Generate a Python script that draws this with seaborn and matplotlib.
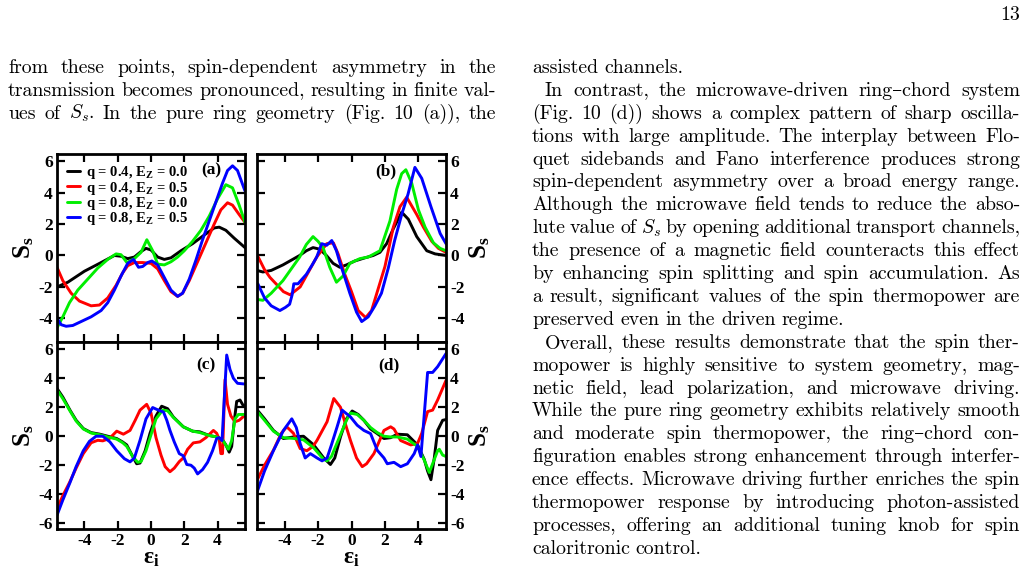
import matplotlib
matplotlib.use('Agg')
import matplotlib.pyplot as plt
import numpy as np
import pandas as pd
import seaborn as sns

# ---------------- data ----------------
names = [r'q = 0.4, $\mathrm{E_Z}$ = 0.0', r'q = 0.4, $\mathrm{E_Z}$ = 0.5',
         r'q = 0.8, $\mathrm{E_Z}$ = 0.0', r'q = 0.8, $\mathrm{E_Z}$ = 0.5']
colors = ['#000000', '#ff0000', '#00ee00', '#0000ff']

# panel (a)
a_k_x = [-5.65, -5.0, -4.0, -3.0, -2.2, -1.8, -1.4, -1.0, -0.6, -0.3, 0.0, 0.4, 0.8, 1.2, 1.8, 2.5, 3.2, 3.8, 4.1, 4.5, 5.0, 5.65]
a_k_y = [-2.0, -1.7, -1.0, -0.45, 0.0, -0.05, -0.2, -0.1, 0.25, 0.45, 0.35, -0.1, -0.25, -0.15, 0.3, 0.75, 1.3, 1.75, 1.8, 1.6, 1.1, 0.5]
a_r_x = [-5.65, -5.3, -4.8, -4.3, -3.6, -3.1, -2.6, -2.1, -1.7, -1.4, -1.0, -0.5, 0.0, 0.4, 0.8, 1.2, 1.6, 1.9, 2.3, 2.8, 3.3, 3.8, 4.2, 4.6, 4.9, 5.3, 5.65]
a_r_y = [-0.75, -1.6, -2.4, -2.9, -3.2, -3.15, -2.7, -1.9, -1.1, -0.65, -0.45, -0.45, -0.5, -0.85, -1.6, -2.3, -2.6, -2.4, -1.6, -0.4, 0.8, 2.0, 2.9, 3.35, 3.2, 2.6, 2.1]
a_g_x = [-5.65, -5.3, -4.9, -4.4, -3.8, -3.2, -2.6, -2.1, -1.8, -1.45, -1.0, -0.6, -0.25, 0.1, 0.4, 0.8, 1.2, 1.6, 2.0, 2.5, 3.0, 3.5, 4.0, 4.5, 4.9, 5.3, 5.65]
a_g_y = [-4.6, -3.9, -3.0, -2.2, -1.5, -0.8, -0.25, 0.1, 0.05, -0.45, -0.2, 0.2, 1.0, 0.3, -0.55, -0.6, -0.4, -0.1, 0.3, 0.9, 1.6, 2.5, 3.6, 4.5, 4.3, 3.2, 2.1]
a_b_x = [-5.65, -5.4, -5.1, -4.7, -4.2, -3.6, -3.0, -2.6, -2.2, -1.8, -1.4, -1.05, -0.75, -0.5, -0.2, 0.05, 0.4, 0.8, 1.2, 1.6, 1.9, 2.3, 2.7, 3.1, 3.5, 3.9, 4.3, 4.6, 4.9, 5.2, 5.65]
a_b_y = [-4.0, -4.4, -4.5, -4.45, -4.2, -3.9, -3.5, -3.0, -2.2, -1.3, -0.5, -0.25, -0.75, -0.7, -0.45, -0.35, -0.6, -1.4, -2.2, -2.6, -2.4, -1.5, -0.3, 1.0, 2.2, 3.4, 4.6, 5.4, 5.7, 5.4, 4.1]

# panel (b)
b_k_x = [-5.65, -5.3, -4.8, -4.1, -3.6, -3.1, -2.7, -2.3, -1.9, -1.5, -1.1, -0.7, -0.3, 0.2, 0.8, 1.3, 1.7, 2.1, 2.5, 3.0, 3.4, 3.9, 4.5, 5.0, 5.65]
b_k_y = [-0.95, -1.05, -0.95, -0.6, -0.3, 0.0, 0.3, 0.5, 0.4, 0.0, -0.5, -0.75, -0.6, -0.35, -0.15, 0.0, 0.2, 0.75, 1.7, 2.75, 2.3, 1.2, 0.3, 0.1, 0.0]
b_r_x = [-5.6, -5.2, -4.87, -4.07, -3.67, -3.07, -2.6, -2.08, -1.48, -1.08, -0.8, -0.4, 0.0, 0.4, 0.85, 1.2, 1.6, 2.0, 2.5, 2.9, 3.3, 3.9, 4.3, 4.8, 5.2, 5.65]
b_r_y = [-0.05, -0.9, -1.4, -2.3, -2.5, -2.0, -1.1, -0.1, 0.75, 0.8, 0.1, -1.2, -2.3, -3.5, -3.95, -3.5, -2.1, -0.7, 1.8, 3.1, 3.7, 2.6, 1.8, 0.9, 0.45, 0.2]
b_g_x = [-5.6, -5.3, -4.8, -4.1, -3.6, -3.1, -2.7, -2.3, -2.0, -1.7, -1.3, -0.9, -0.5, -0.1, 0.5, 1.0, 1.7, 2.3, 2.7, 3.0, 3.25, 3.6, 4.0, 4.4, 4.9, 5.3, 5.65]
b_g_y = [-2.8, -2.85, -2.4, -1.6, -0.85, -0.1, 0.7, 1.2, 0.9, 0.5, -0.75, -1.7, -1.3, -0.5, -0.2, -0.1, 0.3, 2.2, 4.2, 5.2, 5.45, 4.6, 2.9, 1.8, 0.8, 0.45, 0.3]
b_b_x = [-5.6, -5.2, -4.8, -4.28, -3.95, -3.7, -3.55, -3.45, -3.2, -2.7, -2.35, -2.08, -1.78, -1.48, -1.18, -0.9, -0.68, -0.4, -0.1, 0.3, 0.61, 1.0, 1.4, 1.79, 2.2, 2.58, 3.0, 3.38, 3.79, 4.2, 4.75, 5.3, 5.65]
b_b_y = [-1.8, -2.7, -3.2, -3.5, -3.3, -3.1, -2.5, -1.8, -1.8, -1.2, -0.6, -0.1, 0.75, 0.65, 0.95, 0.3, -0.5, -1.4, -2.4, -3.6, -4.2, -3.9, -3.2, -2.4, -0.8, 0.95, 2.6, 3.9, 5.6, 4.9, 3.1, 1.4, 0.75]

# panel (c)
c_k_x = [-5.65, -5.3, -4.87, -4.5, -4.07, -3.6, -3.07, -2.6, -2.06, -1.7, -1.46, -1.1, -0.86, -0.66, -0.35, -0.06, 0.3, 0.64, 1.0, 1.34, 1.94, 2.5, 2.94, 3.5, 3.95, 4.3, 4.5, 4.7, 4.85, 5.0, 5.15, 5.35, 5.55, 5.65]
c_k_y = [3.3, 2.7, 1.8, 1.1, 0.53, 0.25, 0.14, 0.0, -0.16, -0.4, -0.6, -1.4, -1.9, -1.85, -1.0, 0.2, 1.4, 2.07, 1.9, 1.33, 0.65, 0.35, 0.3, 0.05, -0.05, -0.25, -0.6, -1.1, -0.7, 1.0, 2.4, 2.5, 2.1, 2.1]
c_r_x = [-5.65, -5.3, -4.9, -4.5, -4.07, -3.6, -3.2, -2.9, -2.5, -2.06, -1.66, -1.26, -0.95, -0.66, -0.26, 0.0, 0.3, 0.6, 0.85, 1.14, 1.4, 1.7, 1.94, 2.2, 2.54, 2.94, 3.3, 3.75, 3.95, 4.1, 4.2, 4.3, 4.45, 4.6, 4.8, 5.05, 5.3, 5.65]
c_r_y = [-5.0, -4.1, -3.2, -2.2, -1.2, -0.45, -0.28, -0.32, -0.16, 0.35, 0.14, 0.4, 1.1, 1.8, 2.2, 1.6, -0.1, -1.3, -2.1, -2.45, -2.2, -1.75, -1.5, -0.9, -0.46, -0.39, -0.1, 0.4, 0.2, -0.2, -1.2, -1.2, 3.9, 2.2, 1.4, 1.0, 1.1, 1.45]
c_g_x = [-5.65, -5.3, -4.87, -4.5, -4.07, -3.6, -3.07, -2.6, -2.06, -1.7, -1.46, -1.1, -0.8, -0.6, -0.3, 0.0, 0.3, 0.7, 1.0, 1.34, 1.94, 2.5, 2.94, 3.5, 3.95, 4.3, 4.65, 4.85, 5.05, 5.25, 5.45, 5.65]
c_g_y = [3.2, 2.6, 1.75, 1.05, 0.5, 0.22, 0.1, -0.05, -0.2, -0.45, -0.7, -1.4, -1.8, -1.75, -1.0, 0.1, 1.2, 1.8, 1.75, 1.3, 0.65, 0.35, 0.25, 0.05, -0.05, -0.25, -0.9, -0.3, 1.2, 1.5, 1.5, 1.5]
c_b_x = [-5.65, -5.3, -4.87, -4.5, -4.07, -3.7, -3.3, -2.9, -2.47, -2.06, -1.6, -1.26, -1.0, -0.66, -0.3, 0.1, 0.35, 0.55, 0.75, 0.95, 1.14, 1.4, 1.7, 1.94, 2.15, 2.4, 2.6, 2.8, 3.1, 3.4, 3.7, 3.95, 4.1, 4.27, 4.4, 4.55, 4.75, 4.95, 5.2, 5.65]
c_b_y = [-5.45, -4.4, -3.2, -2.1, -1.0, -0.35, 0.0, 0.0, -0.39, -1.0, -1.55, -1.77, -1.5, -0.28, 1.2, 1.98, 1.85, 1.75, 1.67, 1.1, 0.4, -0.4, -1.2, -1.35, -1.95, -2.0, -2.2, -2.6, -2.3, -1.8, -1.0, -0.15, -0.1, -0.3, 2.5, 5.6, 4.6, 4.0, 3.65, 3.6]

# panel (d)
d_k_x = [-5.63, -5.2, -4.67, -4.07, -3.47, -2.87, -2.26, -1.66, -1.26, -1.0, -0.66, -0.3, 0.04, 0.4, 0.74, 1.14, 1.54, 1.94, 2.34, 2.74, 3.34, 3.95, 4.35, 4.55, 4.75, 4.95, 5.15, 5.45, 5.65]
d_k_y = [1.8, 1.2, 0.4, -0.16, -0.05, 0.0, -0.6, -1.5, -1.95, -1.5, -0.05, 1.2, 1.74, 1.5, 1.1, 0.5, 0.18, -0.16, -0.1, 0.14, 0.1, -0.6, -1.6, -2.4, -3.0, -1.5, 0.4, 1.1, 1.15]
d_r_x = [-5.63, -5.2, -4.67, -4.2, -3.87, -3.47, -3.07, -2.67, -2.3, -2.06, -1.46, -1.06, -0.66, -0.3, -0.06, 0.3, 0.64, 0.9, 1.34, 1.94, 2.34, 2.54, 2.94, 3.54, 3.95, 4.2, 4.55, 4.85, 5.15, 5.65]
d_r_y = [-3.0, -2.0, -0.97, 0.2, 0.65, 0.2, -0.85, -1.0, -0.7, -0.28, 1.0, 2.6, 2.0, 0.6, -0.3, -1.5, -2.1, -1.9, -1.2, 0.4, 0.65, 0.5, -0.3, -0.6, -0.5, 0.2, 1.7, 1.8, 2.5, 3.85]
d_g_x = [-5.63, -5.2, -4.67, -4.07, -3.47, -2.87, -2.26, -1.66, -1.46, -1.2, -0.66, -0.3, -0.06, 0.34, 0.74, 1.14, 1.54, 1.94, 2.34, 2.74, 3.34, 3.95, 4.35, 4.65, 4.95, 5.15, 5.25, 5.45, 5.65]
d_g_y = [1.7, 1.1, 0.35, -0.1, -0.15, -0.25, -0.8, -1.6, -1.7, -1.4, 0.1, 1.1, 1.6, 1.5, 1.1, 0.6, 0.25, 0.0, -0.05, -0.05, -0.2, -0.7, -1.65, -2.5, -1.6, -1.0, -0.9, -1.3, -1.4]
d_b_x = [-5.63, -5.2, -4.67, -4.07, -3.57, -3.3, -3.07, -2.77, -2.46, -2.06, -1.76, -1.46, -1.2, -0.86, -0.56, -0.06, 0.34, 0.74, 1.14, 1.54, 1.94, 2.14, 2.54, 2.94, 3.34, 3.75, 3.95, 4.15, 4.55, 4.85, 5.15, 5.65]
d_b_y = [-3.8, -2.4, -1.0, 0.4, 1.2, 0.6, -0.5, -1.5, -1.2, -1.5, -1.7, -1.5, -0.6, 0.65, 1.8, 1.33, 0.76, 0.4, 0.18, -0.97, -1.5, -1.9, -1.8, -2.1, -1.9, -1.2, -0.6, -1.4, 4.4, 4.4, 4.8, 5.7]

x_ticks = [-4, -2, 0, 2, 4]

# ---------------- page text ----------------
page_number = '13'
left_lines = [
    'from these points, spin-dependent asymmetry in the',
    'transmission becomes pronounced, resulting in finite val-',
    'ues of $S_s$. In the pure ring geometry (Fig. 10 (a)), the',
]
right_lines = [
    'assisted channels.',
    'In contrast, the microwave-driven ring\u2013chord system',
    '(Fig. 10 (d)) shows a complex pattern of sharp oscilla-',
    'tions with large amplitude. The interplay between Flo-',
    'quet sidebands and Fano interference produces strong',
    'spin-dependent asymmetry over a broad energy range.',
    'Although the microwave field tends to reduce the abso-',
    'lute value of $S_s$ by opening additional transport channels,',
    'the presence of a magnetic field counteracts this effect',
    'by enhancing spin splitting and spin accumulation. As',
    'a result, significant values of the spin thermopower are',
    'preserved even in the driven regime.',
    'Overall, these results demonstrate that the spin ther-',
    'mopower is highly sensitive to system geometry, mag-',
    'netic field, lead polarization, and microwave driving.',
    'While the pure ring geometry exhibits relatively smooth',
    'and moderate spin thermopower, the ring\u2013chord con-',
    'figuration enables strong enhancement through interfer-',
    'ence effects. Microwave driving further enriches the spin',
    'thermopower response by introducing photon-assisted',
    'processes, offering an additional tuning knob for spin',
    'caloritronic control.',
]
right_last = [0, 11, 21]
right_indent = [1, 12]

# ---------------- style ----------------
sns.set_style('ticks')
plt.rcParams['font.family'] = ['Liberation Serif', 'DejaVu Serif']
plt.rcParams['font.weight'] = 'bold'
plt.rcParams['mathtext.fontset'] = 'custom'
plt.rcParams['mathtext.rm'] = 'Liberation Serif:bold'
plt.rcParams['mathtext.it'] = 'Liberation Serif:bold'
plt.rcParams['mathtext.bf'] = 'Liberation Serif:bold'
plt.rcParams['axes.unicode_minus'] = False
plt.rcParams['axes.edgecolor'] = 'black'
plt.rcParams['xtick.color'] = 'black'
plt.rcParams['ytick.color'] = 'black'
plt.rcParams['text.color'] = 'black'
plt.rcParams['axes.labelcolor'] = 'black'

W, H = 1028, 577
fig = plt.figure(figsize=(W / 100, H / 100), dpi=100)


def box(x0, y0, x1, y1):
    return [x0 / W, 1 - y1 / H, (x1 - x0) / W, (y1 - y0) / H]


panels = [
    ('(a)', box(57, 154, 245, 342), [(a_k_x, a_k_y), (a_r_x, a_r_y), (a_g_x, a_g_y), (a_b_x, a_b_y)],
     (-5.5, 6.45), False, False, (0.82, 0.915)),
    ('(b)', box(257, 154, 446, 342), [(b_k_x, b_k_y), (b_r_x, b_r_y), (b_g_x, b_g_y), (b_b_x, b_b_y)],
     (-5.5, 6.45), True, False, (0.68, 0.905)),
    ('(c)', box(57, 342, 245, 529), [(c_k_x, c_k_y), (c_r_x, c_r_y), (c_g_x, c_g_y), (c_b_x, c_b_y)],
     (-6.4, 6.5), False, True, (0.79, 0.877)),
    ('(d)', box(257, 342, 446, 529), [(d_k_x, d_k_y), (d_r_x, d_r_y), (d_g_x, d_g_y), (d_b_x, d_b_y)],
     (-6.4, 6.5), True, True, (0.70, 0.877)),
]

for tag, rect, curves, ylim, right, bottom, tagpos in panels:
    ax = fig.add_axes(rect)
    for i, (xs, ys) in enumerate(curves):
        df = pd.DataFrame({'e': xs, 's': ys})
        sns.lineplot(data=df, x='e', y='s', color=colors[i], lw=2.1, ax=ax,
                     estimator=None, sort=False,
                     label=names[i] if tag == '(a)' else None)
    ax.set_xlim(-5.65, 5.65)
    ax.set_ylim(*ylim)
    ax.set_xticks(x_ticks)
    ax.set_yticks([v for v in range(-6, 7, 2) if ylim[0] <= v <= ylim[1]])
    for sp in ax.spines.values():
        sp.set_visible(True)
        sp.set_linewidth(2.0)
        sp.set_color('black')
    ax.tick_params(direction='in', top=True, right=True, length=6, width=1.6,
                   labelsize=12.5, pad=3, colors='black',
                   labelleft=not right, labelright=right, labelbottom=bottom)
    for lab in ax.get_xticklabels() + ax.get_yticklabels():
        lab.set_fontweight('bold')
    ax.set_ylabel(r'$\mathrm{S_s}$', fontsize=18, labelpad=2)
    if right:
        ax.yaxis.set_label_position('right')
    if bottom:
        ax.set_xlabel(r'$\mathrm{ε_i}$', fontsize=17, labelpad=-1)
    else:
        ax.set_xlabel('')
    ax.text(tagpos[0], tagpos[1], tag, transform=ax.transAxes, ha='center', va='center',
            fontsize=12.5, fontweight='bold')
    if tag == '(a)':
        ax.legend(loc='upper left', bbox_to_anchor=(0.055, 0.945), frameon=False,
                  prop={'size': 10.5, 'weight': 'bold'}, handlelength=0.9, handletextpad=0.4,
                  labelspacing=-0.12, borderpad=0, borderaxespad=0)

# ---------------- body text, justified ----------------
txt_kw = dict(fontfamily=['cmr10', 'DejaVu Serif'], fontsize=14.3, fontweight='normal',
              math_fontfamily='cm', va='baseline', ha='left')
renderer = fig.canvas.get_renderer()
space_px = 6.0


def put_line(line, x0, x1, base, justify):
    words = line.split(' ')
    objs = [fig.text(0, 1 - base / H, w, **txt_kw) for w in words]
    widths = [t.get_window_extent(renderer).width for t in objs]
    if justify and len(words) > 1:
        gap = (x1 - x0 - sum(widths)) / (len(words) - 1)
    else:
        gap = space_px
    x = x0
    for t, w in zip(objs, widths):
        t.set_x(x / W)
        x += w + gap


base0, step = 73, 22.9
for i, line in enumerate(left_lines):
    put_line(line, 8, 496, base0 + i * step, True)
for i, line in enumerate(right_lines):
    x0 = 532 + (13 if i in right_indent else 0)
    put_line(line, x0, 1020, base0 + i * step, i not in right_last)

fig.text(1020 / W, 1 - 20 / H, page_number, **{**txt_kw, 'ha': 'right'})

fig.savefig('out.png', dpi=100)
